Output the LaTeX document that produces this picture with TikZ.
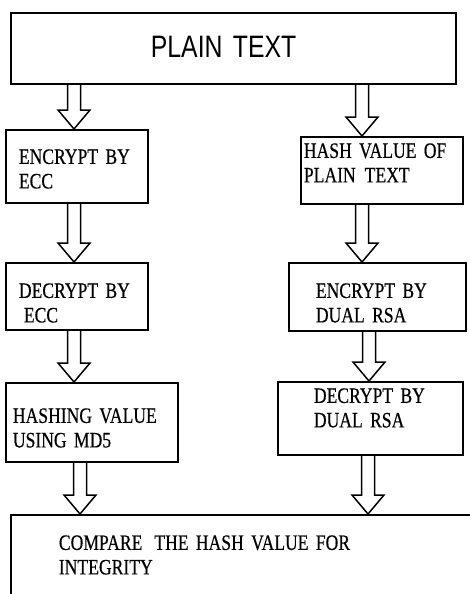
\documentclass[tikz,border=0pt]{standalone}
\usepackage{fontspec}
\setmainfont{Liberation Serif}[FakeStretch=0.8,FakeBold=0.4]
\newfontfamily\titlefont{Liberation Sans}[FakeStretch=0.8]
\usetikzlibrary{calc}

\newcommand{\boxfont}{\fontsize{22}{24.5}\selectfont\setlength{\spaceskip}{3.5pt plus 1pt}}
\newcommand{\hollowarrow}[3]{%
  \path (#2.south -| #1,0) coordinate (ta) (#3.north -| #1,0) coordinate (tb);
  \draw[arrowline] ($(ta)+(-6.5,0)$) -- ($(tb)+(-6.5,-19)$) -- ($(tb)+(-16,-19)$)
    -- (tb) -- ($(tb)+(16,-19)$) -- ($(tb)+(6.5,-19)$) -- ($(ta)+(6.5,0)$);}

\begin{document}
\begin{tikzpicture}[x=1pt,y=-1pt,
  box/.style={draw, line width=1.8pt, anchor=north west, inner ysep=0pt, align=left,
    font=\boxfont},
  arrowline/.style={line width=1.5pt, line join=miter}]
\useasboundingbox (0,0) rectangle (469,594);

\node[box, font=\titlefont\fontsize{31}{36}\selectfont, inner xsep=140pt, text width=165pt,
  text height=45pt, text depth=26pt] (plain) at (10,12) {PLAIN TEXT};

\node[box, inner xsep=13pt, text width=116pt, text height=34pt, text depth=39pt]
  (encecc) at (5,129) {ENCRYPT BY\\ECC};
\node[box, inner xsep=13pt, text width=116pt, text height=35pt, text depth=32pt]
  (dececc) at (5,262) {DECRYPT BY\\\hspace*{5pt}ECC};
\node[box, inner xsep=7pt, text width=158pt, text height=40pt, text depth=39pt]
  (md5) at (5,382) {HASHING VALUE\\USING MD5};

\node[box, inner xsep=3pt, text width=156pt, text height=21pt, text depth=46pt]
  (hashval) at (300,136) {HASH VALUE OF\\PLAIN\hspace{9pt}TEXT};
\node[box, inner xsep=27pt, text width=123pt, text height=35pt, text depth=33pt]
  (encrsa) at (288,262) {ENCRYPT BY\\DUAL RSA};
\node[box, inner xsep=36pt, text width=113pt, text height=21pt, text depth=52pt]
  (decrsa) at (277,381) {DECRYPT BY\\DUAL RSA};

\node[box, inner xsep=48pt, text width=374pt, text height=35pt, text depth=61pt]
  (compare) at (10,514) {COMPARE\hspace{12pt}THE HASH VALUE FOR\\INTEGRITY};

\hollowarrow{74}{plain}{encecc}
\hollowarrow{74}{encecc}{dececc}
\hollowarrow{74}{dececc}{md5}
\hollowarrow{80}{md5}{compare}
\hollowarrow{362}{plain}{hashval}
\hollowarrow{362}{hashval}{encrsa}
\hollowarrow{369}{encrsa}{decrsa}
\hollowarrow{368}{decrsa}{compare}
\end{tikzpicture}
\end{document}
